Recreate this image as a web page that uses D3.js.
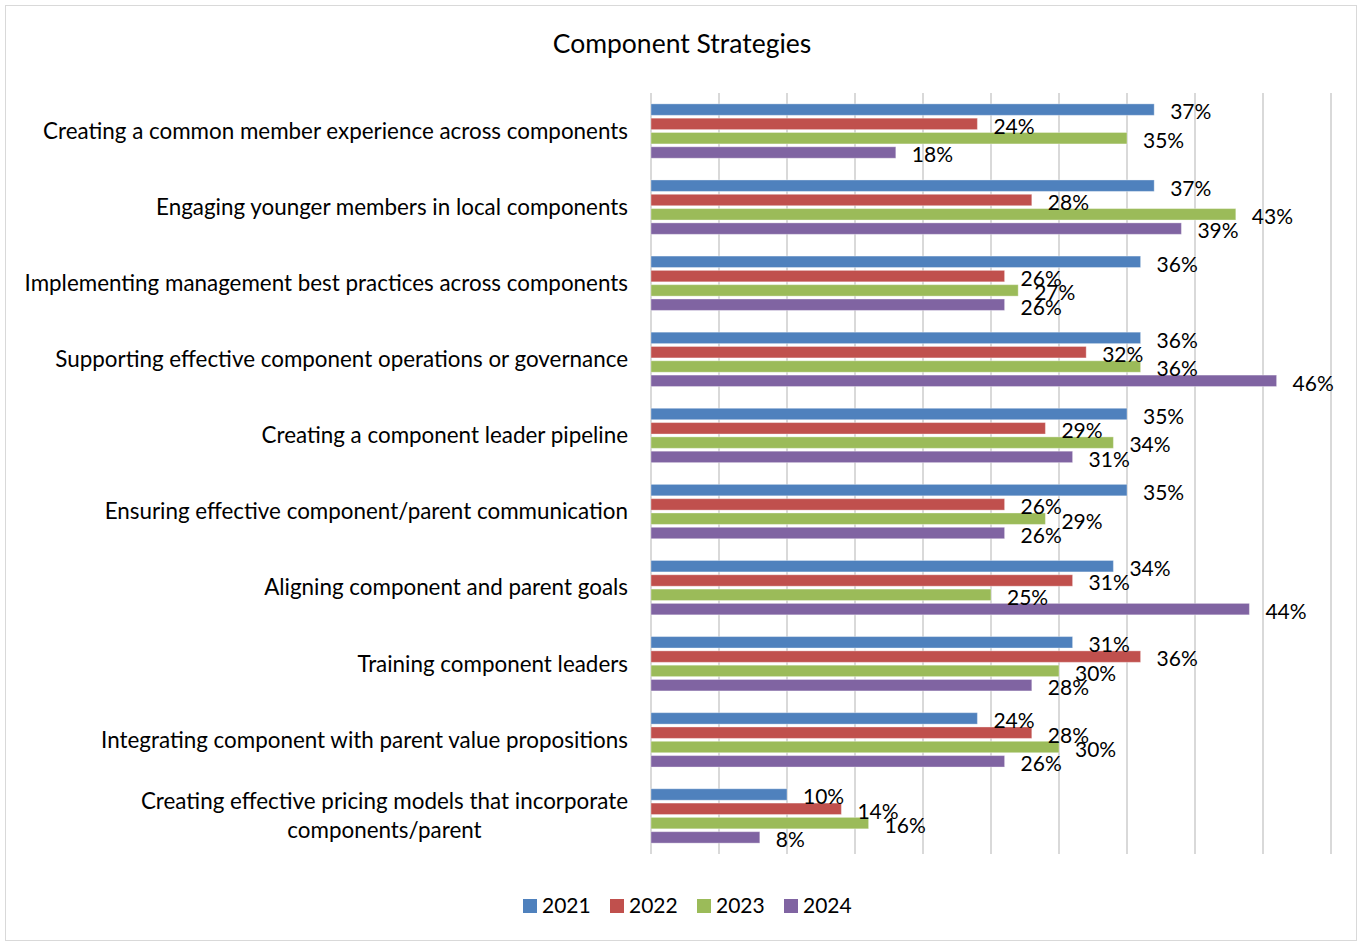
<!DOCTYPE html>
<html>
<head>
<meta charset="utf-8">
<script src="https://cdn.jsdelivr.net/npm/d3@7"></script>
<style>
  body { margin: 0; background: #fff; }
  svg { display: block; font-family: Lato, "Open Sans", sans-serif; }
</style>
</head>
<body>
<svg id="chart" width="1360" height="943"></svg>
<script>
// Survey results: share of respondents naming each component strategy, by year
const categories = [
  "Creating a common member experience across components",
  "Engaging younger members in local components",
  "Implementing management best practices across components",
  "Supporting effective component operations or governance",
  "Creating a component leader pipeline",
  "Ensuring effective component/parent communication",
  "Aligning component and parent goals",
  "Training component leaders",
  "Integrating component with parent value propositions",
  "Creating effective pricing models that incorporate components/parent"
];
const seriesNames = ["2021", "2022", "2023", "2024"];
const values2021 = [37, 37, 36, 36, 35, 35, 34, 31, 24, 10];
const values2022 = [24, 28, 26, 32, 29, 26, 31, 36, 28, 14];
const values2023 = [35, 43, 27, 36, 34, 29, 25, 30, 30, 16];
const values2024 = [18, 39, 26, 46, 31, 26, 44, 28, 26, 8];
const xTicks = [0, 5, 10, 15, 20, 25, 30, 35, 40, 45, 50];
const colors = ["#4F81BD", "#C0504D", "#9BBB59", "#8064A2"];

// Category label line breaks (only the long last one wraps)
const labelLines = categories.map(c =>
  c.startsWith("Creating effective pricing")
    ? ["Creating effective pricing models that incorporate", "components/parent"]
    : [c]);

const series = [values2021, values2022, values2023, values2024];
const rows = categories.map((c, i) => ({
  category: c,
  values: seriesNames.map((s, j) => ({ series: s, value: series[j][i] }))
}));

const svg = d3.select("#chart");
const W = 1360, H = 943;
const plot = { left: 651, right: 1331, top: 93, bottom: 854 };

// Outer frame
svg.append("rect")
  .attr("x", 5.5).attr("y", 5.5)
  .attr("width", W - 9).attr("height", H - 8)
  .attr("fill", "#fff").attr("stroke", "#D9D9D9").attr("stroke-width", 1);

// Title
svg.append("text")
  .attr("x", 682).attr("y", 53)
  .attr("text-anchor", "middle")
  .attr("font-size", 26.5)
  .attr("fill", "#000")
  .text("Component Strategies");

const x = d3.scaleLinear().domain([0, 50]).range([plot.left, plot.right]);
const y0 = d3.scaleBand().domain(categories).range([plot.top, plot.bottom]).paddingInner(0).paddingOuter(0);
const y1 = d3.scaleBand().domain(seriesNames).range([0, y0.bandwidth()]).paddingOuter(0.76).paddingInner(0.2);

// Vertical gridlines
svg.append("g")
  .selectAll("line")
  .data(xTicks)
  .join("line")
  .attr("x1", d => x(d)).attr("x2", d => x(d))
  .attr("y1", plot.top).attr("y2", plot.bottom)
  .attr("stroke", "#D9D9D9").attr("stroke-width", 2);

// Bars
const groups = svg.append("g")
  .selectAll("g")
  .data(rows)
  .join("g")
  .attr("transform", d => `translate(0,${y0(d.category)})`);

groups.selectAll("rect")
  .data(d => d.values)
  .join("rect")
  .attr("x", x(0))
  .attr("y", d => y1(d.series))
  .attr("width", d => x(d.value) - x(0))
  .attr("height", y1.bandwidth())
  .attr("fill", (d, i) => colors[i])
  .attr("stroke", "#ffffff")
  .attr("stroke-opacity", 0.35)
  .attr("stroke-width", 1);

// Value labels
groups.selectAll("text")
  .data(d => d.values)
  .join("text")
  .attr("x", d => x(d.value) + 16)
  .attr("y", d => y1(d.series) + y1.bandwidth() / 2 + 2.5)
  .attr("dy", "0.35em")
  .attr("font-size", 21)
  .attr("fill", "#000")
  .text(d => d.value + "%");

// Category labels
const labelRight = 628;
const catLabels = svg.append("g")
  .selectAll("text")
  .data(rows.map((r, i) => ({ ...r, lines: labelLines[i] })))
  .join("text")
  .attr("font-size", 22.4)
  .attr("fill", "#000");

catLabels.each(function (d) {
  const t = d3.select(this);
  const cy = y0(d.category) + y0.bandwidth() / 2;
  const lh = 29;
  const n = d.lines.length;
  const spans = d.lines.map((line, k) =>
    t.append("tspan")
      .attr("y", cy + (k - (n - 1) / 2) * lh)
      .attr("dy", "0.35em")
      .text(line));
  if (n === 1) {
    t.attr("text-anchor", "end");
    spans[0].attr("x", labelRight);
  } else {
    const widest = d3.max(spans, s => s.node().getComputedTextLength());
    t.attr("text-anchor", "middle");
    spans.forEach(s => s.attr("x", labelRight - widest / 2));
  }
});

// Legend
const legendX = [523, 610, 697, 784];
const legend = svg.append("g")
  .selectAll("g")
  .data(seriesNames)
  .join("g")
  .attr("transform", (d, i) => `translate(${legendX[i]},906)`);
legend.append("rect")
  .attr("x", 0).attr("y", -7)
  .attr("width", 14).attr("height", 14)
  .attr("fill", (d, i) => colors[i]);
legend.append("text")
  .attr("x", 19).attr("y", 0)
  .attr("dy", "0.35em")
  .attr("font-size", 21)
  .attr("fill", "#000")
  .text(d => d);
</script>
</body>
</html>
